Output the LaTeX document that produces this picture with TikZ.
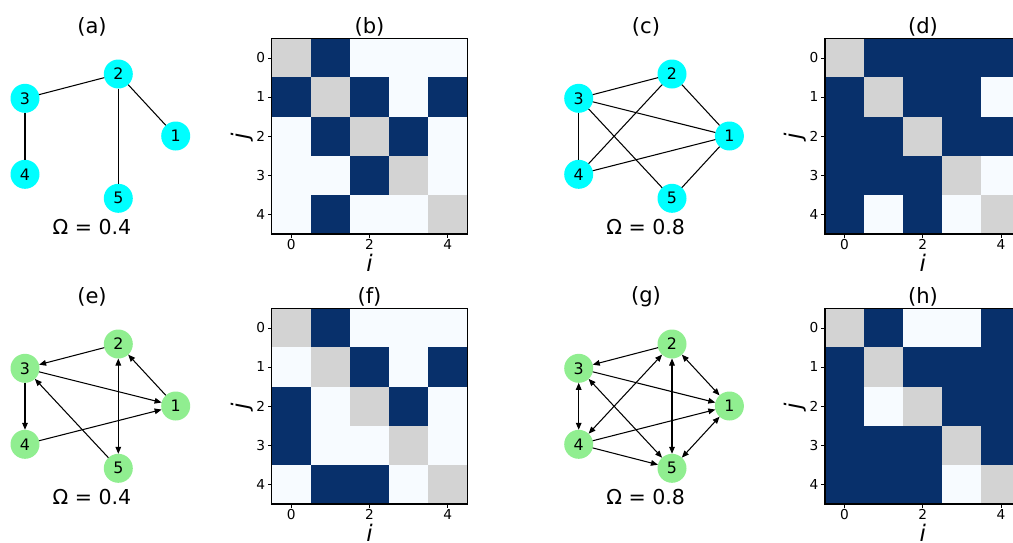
\documentclass[tikz,border=0pt]{standalone}
\usepackage{fontspec}
\setmainfont{DejaVu Sans}
\usepackage{tikz}
\usetikzlibrary{arrows.meta,positioning}

\definecolor{mdark}{HTML}{08306B}
\definecolor{mlight}{HTML}{F7FBFF}
\definecolor{mgray}{HTML}{D3D3D3}
\definecolor{vcyan}{HTML}{00FFFF}
\definecolor{vgreen}{HTML}{90EE90}

% one adjacency matrix: #1,#2 top left corner, #3 rows of cells (D, L, G)
\newcommand\adjmat[3]{%
 \foreach \row [count=\r from 0] in {#3}
  {\foreach \v [count=\c from 0] in \row
   {\fill[cell\v] ({#1+\c*39.1},{#2+\r*39.1}) rectangle ++(39.1,39.1);}}
 \draw[line width=0.8pt] (#1,#2) rectangle ++(195.5,195.5);
 \foreach \k in {0,...,4}
  {\draw (#1,{#2+19.55+\k*39.1})--++(-4,0) node[left,tick]{\k};}
 \foreach \k in {0,2,4}
  {\draw ({#1+19.55+\k*39.1},{#2+195.5})--++(0,4) node[below,tick,inner sep=0.5pt]{\k};}
 \node[axlab] at ({#1+97.75},{#2+225}) {\textit{i}};
 \node[axlab,rotate=90] at ({#1-29.5},{#2+97.75}) {\textit{j}};
}

\begin{document}
\begin{tikzpicture}[x=0.02cm,y=-0.02cm,
 cellD/.style={fill=mdark}, cellL/.style={fill=mlight}, cellG/.style={fill=mgray},
 tick/.style={font=\fontsize{7.8}{9}\selectfont,inner sep=1.3pt},
 axlab/.style={font=\fontsize{13}{15}\selectfont},
 ttl/.style={font=\fontsize{12}{14}\selectfont},
 omg/.style={font=\fontsize{11.7}{14}\selectfont},
 vtx/.style={circle,minimum size=29*0.02cm,inner sep=0pt,outer sep=0pt,
  font=\fontsize{9}{11}\selectfont},
 edge/.style={line width=0.6pt},
 arr/.style={line width=0.6pt,-{Triangle[length=4pt,width=3.2pt]}},
 darr/.style={line width=0.6pt,{Triangle[length=4pt,width=3.2pt]}-{Triangle[length=4pt,width=3.2pt]}}]
\clip (0,0) rectangle (1013,542);

% titles
\foreach \t/\x/\y in {a/92/26.5,b/369.5/26.5,c/646/26.5,d/923/26.5,
 e/92/296.5,f/369.5/296.5,g/646/296.5,h/923/296.5}
 {\node[ttl] (t\t) at (\x,\y) {(\t)};}

% graphs
\foreach \p/\sx/\sy/\col in {a/0/0/vcyan,c/553.7/0/vcyan,e/0/270/vgreen,g/553.7/270/vgreen}
 {\foreach \k/\px/\py in {1/175.7/136,2/118.3/74,3/25/98.3,4/25/174.3,5/118.3/198.3}
   {\node[vtx,fill=\col] (\p\k) at ({\px+\sx},{\py+\sy}) {\k};}}

\node[omg] (oa) at (92,226.7) {Ω = 0.4};
\node[omg] (oc) at (645.7,226.7) {Ω = 0.8};
\node[omg] (oe) at (92,496.7) {Ω = 0.4};
\node[omg] (og) at (645.7,496.7) {Ω = 0.8};

\foreach \s/\t in {3/2,2/1,2/5,3/4}
 {\draw[edge] (a\s)--(a\t);}
\foreach \s/\t in {3/2,3/1,3/4,3/5,2/1,2/4,4/1,5/1}
 {\draw[edge] (c\s)--(c\t);}

\foreach \s/\t in {2/3,3/1,1/2,3/4,4/1,5/3}
 {\draw[arr] (e\s)--(e\t);}
\draw[darr] (e2)--(e5);

\foreach \s/\t in {2/3,3/1,4/1,4/5}
 {\draw[arr] (g\s)--(g\t);}
\foreach \s/\t in {1/2,1/5,2/4,2/5,3/4,3/5}
 {\draw[darr] (g\s)--(g\t);}

% matrices
\adjmat{271.7}{38.3}{{G,D,L,L,L},{D,G,D,L,D},{L,D,G,D,L},{L,L,D,G,L},{L,D,L,L,G}}
\adjmat{825}{38.3}{{G,D,D,D,D},{D,G,D,D,L},{D,D,G,D,D},{D,D,D,G,L},{D,L,D,L,G}}
\adjmat{271.7}{308.3}{{G,D,L,L,L},{L,G,D,L,D},{D,L,G,D,L},{D,L,L,G,L},{L,D,D,L,G}}
\adjmat{825}{308.3}{{G,D,L,L,D},{D,G,D,D,D},{D,L,G,D,D},{D,D,D,G,D},{D,D,D,L,G}}
\end{tikzpicture}
\end{document}
